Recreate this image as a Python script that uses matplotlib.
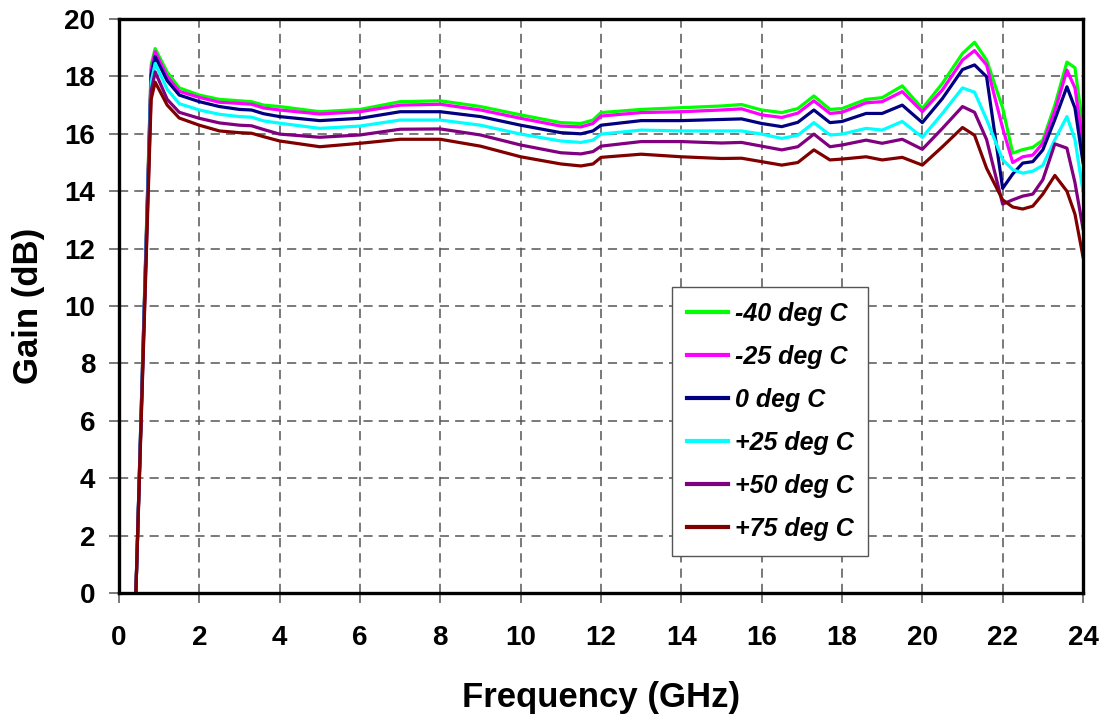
import matplotlib
matplotlib.use('Agg')
import matplotlib.pyplot as plt

# frequency points (GHz)
freq = [0.42, 0.8, 0.9, 1.2, 1.5, 2, 2.5, 3, 3.3, 3.6, 4, 5, 6, 7, 8, 9, 10, 11, 11.5, 11.8,
        12, 13, 14, 15, 15.5, 16, 16.5, 16.9, 17.3, 17.7, 18, 18.6, 19, 19.5, 20, 20.5,
        21, 21.3, 21.6, 22, 22.25, 22.5, 22.75, 23, 23.3, 23.6, 23.8, 24]

gain_m40 = [0, 18.4, 18.97, 18.15, 17.6, 17.35, 17.2, 17.15, 17.12, 17.0, 16.95, 16.77, 16.85,
            17.12, 17.15, 16.95, 16.66, 16.39, 16.36, 16.48, 16.74, 16.85, 16.91, 16.97, 17.02,
            16.83, 16.74, 16.88, 17.32, 16.85, 16.88, 17.2, 17.26, 17.67, 16.88, 17.76, 18.8,
            19.19, 18.57, 16.9, 15.33, 15.45, 15.53, 15.78, 17.0, 18.5, 18.3, 16.2]
gain_m25 = [0, 18.25, 18.86, 18.0, 17.48, 17.27, 17.1, 17.06, 17.03, 16.9, 16.83, 16.69, 16.77,
            17.0, 17.03, 16.83, 16.54, 16.27, 16.24, 16.36, 16.62, 16.74, 16.77, 16.83, 16.87,
            16.66, 16.57, 16.72, 17.15, 16.71, 16.75, 17.08, 17.12, 17.47, 16.77, 17.53, 18.57,
            18.9, 18.4, 16.2, 15.0, 15.2, 15.26, 15.67, 16.8, 18.22, 17.6, 15.6]
gain_0 = [0, 18.05, 18.69, 17.85, 17.35, 17.12, 16.95, 16.85, 16.83, 16.7, 16.6, 16.46, 16.54,
          16.77, 16.77, 16.6, 16.3, 16.04, 16.0, 16.1, 16.3, 16.46, 16.46, 16.5, 16.52, 16.36,
          16.25, 16.4, 16.83, 16.39, 16.43, 16.71, 16.71, 17.0, 16.39, 17.23, 18.24, 18.4,
          17.99, 14.1, 14.6, 14.98, 15.03, 15.44, 16.5, 17.64, 16.9, 15.0]
gain_p25 = [0, 17.8, 18.45, 17.55, 17.05, 16.83, 16.68, 16.6, 16.58, 16.45, 16.37, 16.19, 16.27,
            16.48, 16.48, 16.3, 15.99, 15.75, 15.7, 15.78, 15.99, 16.13, 16.1, 16.1, 16.1, 15.99,
            15.84, 15.95, 16.39, 15.96, 15.99, 16.19, 16.13, 16.43, 15.88, 16.71, 17.6, 17.45,
            16.5, 15.1, 14.75, 14.63, 14.7, 14.9, 15.8, 16.6, 15.8, 14.0]
gain_p50 = [0, 17.5, 18.16, 17.2, 16.75, 16.54, 16.38, 16.3, 16.28, 16.15, 15.99, 15.88, 15.96,
            16.16, 16.17, 15.96, 15.61, 15.34, 15.3, 15.38, 15.57, 15.73, 15.73, 15.68, 15.7,
            15.57, 15.44, 15.55, 15.99, 15.55, 15.61, 15.78, 15.67, 15.81, 15.46, 16.19, 16.95,
            16.75, 15.8, 13.55, 13.7, 13.83, 13.9, 14.4, 15.65, 15.5, 14.3, 12.7]
gain_p75 = [0, 17.2, 17.8, 17.0, 16.55, 16.3, 16.1, 16.04, 16.02, 15.9, 15.75, 15.55, 15.67,
            15.81, 15.81, 15.57, 15.2, 14.95, 14.88, 14.95, 15.18, 15.29, 15.2, 15.14, 15.15,
            15.03, 14.91, 15.0, 15.44, 15.09, 15.12, 15.2, 15.09, 15.18, 14.91, 15.55, 16.22,
            15.95, 14.8, 13.7, 13.45, 13.38, 13.48, 13.9, 14.55, 14.0, 13.2, 11.72]

labels = ['-40 deg C', '-25 deg C', '0 deg C', '+25 deg C', '+50 deg C', '+75 deg C']
colors = ['#00ff00', '#ff00ff', '#000080', '#00ffff', '#800080', '#800000']
series = [gain_m40, gain_m25, gain_0, gain_p25, gain_p50, gain_p75]

plt.rcParams['font.family'] = ['Liberation Sans', 'DejaVu Sans']

fig = plt.figure(figsize=(11.06, 7.15), dpi=100)
ax = fig.add_axes([0.1076, 0.1706, 0.8716, 0.8028])

for vals, lab, col in zip(series, labels, colors):
    ax.plot(freq, vals, color=col, lw=2.3, label=lab, solid_joinstyle='round')

ax.set_xlim(0, 24)
ax.set_ylim(0, 20)
ax.set_xticks(range(0, 25, 2))
ax.set_yticks(range(0, 21, 2))
ax.grid(True, color='#555555', linestyle=(0, (6, 4)), linewidth=1.1)
ax.set_axisbelow(True)

for s in ax.spines.values():
    s.set_linewidth(2.4)
    s.set_color('black')

ax.tick_params(axis='both', direction='out', length=7, width=1.1, color='#555555',
               labelsize=20)
ax.tick_params(axis='x', pad=16)
ax.tick_params(axis='y', pad=10)
for t in ax.get_xticklabels() + ax.get_yticklabels():
    t.set_fontweight('bold')

ax.set_xlabel('Frequency (GHz)', fontsize=25, fontweight='bold')
ax.set_ylabel('Gain (dB)', fontsize=25, fontweight='bold')
ax.xaxis.set_label_coords(0.5, -0.153)
ax.yaxis.set_label_coords(-0.077, 0.5)

leg = ax.legend(loc='upper left', bbox_to_anchor=(0.5737, 0.533), borderaxespad=0,
                prop={'size': 18, 'weight': 'bold', 'style': 'italic'},
                handlelength=1.65, handletextpad=0.25, labelspacing=0.76,
                borderpad=0.6, fancybox=False, framealpha=1, edgecolor='#555555')
leg.get_frame().set_linewidth(1.0)
for h in leg.get_lines():
    h.set_linewidth(3)

fig.savefig('out.png', dpi=100)
